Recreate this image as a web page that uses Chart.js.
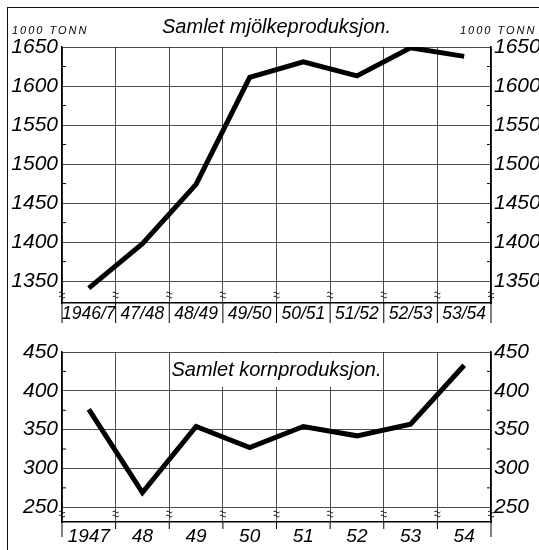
<!DOCTYPE html>
<html lang="no">
<head>
<meta charset="UTF-8">
<title>Samlet mjölke- og kornproduksjon</title>
<script src="https://cdn.jsdelivr.net/npm/chart.js"></script>
<style>
  html, body { margin: 0; padding: 0; background: #fff; }
  body { width: 539px; height: 550px; position: relative; overflow: hidden; }
  #frame { position: absolute; left: 7px; top: 7px; width: 540px; height: 550px;
           border-left: 1.5px solid #111; border-top: 1.5px solid #111; }
  canvas { position: absolute; left: 0; }
  #milkChart { top: 0; }
  #grainChart { top: 330px; }
</style>
</head>
<body>
<div id="frame"></div>
<canvas id="milkChart" width="539" height="330"></canvas>
<canvas id="grainChart" width="539" height="220"></canvas>

<script>
// data (1000 tonn)
const milkYears = ['1946/7', '47/48', '48/49', '49/50', '50/51', '51/52', '52/53', '53/54'];
const milkValues = [1341, 1398, 1474, 1611, 1631, 1613, 1649, 1638];
const milkTicks = [1350, 1400, 1450, 1500, 1550, 1600, 1650];

const grainYears = ['1947', '48', '49', '50', '51', '52', '53', '54'];
const grainValues = [376, 269, 354, 327, 354, 342, 357, 433];
const grainTicks = [250, 300, 350, 400, 450];

const FONT = "'Liberation Sans', Arial, sans-serif";
const GRID = 'rgba(0,0,0,0.7)';

// extra drawing: minor ticks, break marks, label separators, titles
const decor = {
    id: 'decor',
    afterDatasetsDraw(chart, args, o) {
        const ctx = chart.ctx;
        const a = chart.chartArea;
        const y = chart.scales.y;
        const n = chart.data.labels.length;
        const cell = (a.right - a.left) / n;
        ctx.save();
        ctx.strokeStyle = '#000';
        ctx.lineWidth = 1;

        // minor ticks between the labelled values
        for (let i = 0; i < o.ticks.length - 1; i++) {
            const py = y.getPixelForValue((o.ticks[i] + o.ticks[i + 1]) / 2);
            ctx.beginPath();
            ctx.moveTo(a.left, py); ctx.lineTo(a.left + 4, py);
            ctx.moveTo(a.right - 4, py); ctx.lineTo(a.right, py);
            ctx.stroke();
        }

        for (let i = 0; i <= n; i++) {
            const px = a.left + i * cell;
            // break marks
            const by = a.bottom - o.breakOff;
            ctx.beginPath();
            for (const dy of [-2, 2]) {
                ctx.moveTo(px - 3, by + dy);
                ctx.bezierCurveTo(px - 1, by + dy - 3, px + 1, by + dy + 3, px + 3, by + dy);
            }
            ctx.stroke();
            // separators below the axis
            const len = (i === 0 || i === n) ? o.sepEnd : o.sep;
            ctx.beginPath();
            ctx.moveTo(px, a.bottom);
            ctx.lineTo(px, a.bottom + len);
            ctx.stroke();
        }

        // title
        const t = o.title;
        if (t.box) {
            const top = a.top + 1;
            const bot = y.getPixelForValue(t.boxTo);
            ctx.fillStyle = '#fff';
            ctx.fillRect(a.left + t.box[0] * cell + 1, top, (t.box[1] - t.box[0]) * cell - 2, bot - top);
        }
        ctx.fillStyle = '#000';
        ctx.font = 'italic ' + t.size + 'px ' + FONT;
        ctx.textAlign = 'center';
        ctx.textBaseline = 'alphabetic';
        ctx.fillText(t.text, a.left + t.center * cell, t.baseline);

        // unit labels
        if (o.unit) {
            ctx.font = 'italic 11px ' + FONT;
            ctx.letterSpacing = '2px';
            ctx.textAlign = 'left';
            ctx.fillText(o.unit, 12, 34);
            ctx.fillText(o.unit, 460, 34);
        }
        ctx.restore();
    }
};

function makeChart(id, labels, values, ticks, min, max, cfg) {
    const setTicks = s => { s.ticks = ticks.map(v => ({ value: v })); };
    const tickFont = { family: FONT, size: 21, style: 'italic' };
    const plain = v => String(v);
    return new Chart(document.getElementById(id), {
        type: 'line',
        data: {
            labels: labels,
            datasets: [{
                data: values,
                borderColor: '#000',
                borderWidth: 5,
                pointRadius: 0,
                tension: 0,
                fill: false,
                borderJoinStyle: 'miter',
                borderCapStyle: 'butt'
            }]
        },
        options: {
            responsive: false,
            animation: false,
            devicePixelRatio: 1,
            layout: { padding: { top: cfg.padTop, left: 0, right: 0, bottom: 0 } },
            plugins: {
                legend: { display: false },
                tooltip: { enabled: false },
                decor: cfg.decor
            },
            scales: {
                x: {
                    offset: true,
                    grid: { offset: true, color: GRID, lineWidth: 1, drawTicks: false },
                    border: { color: '#000', width: 1.5 },
                    ticks: { color: '#000', font: { family: FONT, size: cfg.xFont, style: 'italic' },
                             padding: cfg.xPad, maxRotation: 0, autoSkip: false },
                    afterFit(s) { s.height = cfg.xHeight; }
                },
                y: {
                    position: 'left', min: min, max: max,
                    afterBuildTicks: setTicks,
                    grid: { color: GRID, lineWidth: 1, drawTicks: false },
                    border: { color: '#000', width: 1.5 },
                    ticks: { color: '#000', font: tickFont, padding: 4, callback: plain },
                    afterFit(s) { s.width = 62; }
                },
                y2: {
                    position: 'right', min: min, max: max,
                    afterBuildTicks: setTicks,
                    grid: { display: false, drawTicks: false },
                    border: { display: true, color: '#000', width: 1.5 },
                    ticks: { color: '#000', font: tickFont, padding: 3, callback: plain },
                    afterFit(s) { s.width = 48; }
                }
            }
        },
        plugins: [decor]
    });
}

makeChart('milkChart', milkYears, milkValues, milkTicks, 1322, 1650, {
    padTop: 47, xHeight: 27, xFont: 17.5, xPad: 1,
    decor: {
        ticks: milkTicks, breakOff: 8, sep: 20, sepEnd: 20,
        unit: '1000 TONN',
        title: { text: 'Samlet mjölkeproduksjon.', size: 20, center: 4, baseline: 33 }
    }
});

makeChart('grainChart', grainYears, grainValues, grainTicks, 231, 450, {
    padTop: 22, xHeight: 28, xFont: 19, xPad: 3,
    decor: {
        ticks: grainTicks, breakOff: 8, sep: 7, sepEnd: 15,
        title: { text: 'Samlet kornproduksjon.', size: 20, center: 4, baseline: 46,
                 box: [2, 6], boxTo: 405 }
    }
});
</script>
</body>
</html>
